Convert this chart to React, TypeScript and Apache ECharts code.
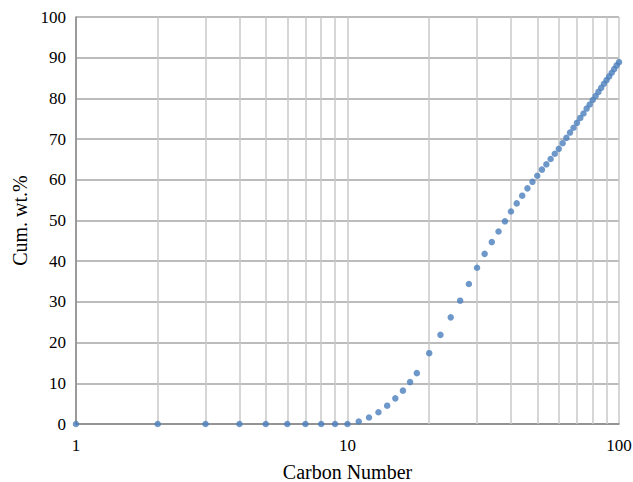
import React, { useEffect, useRef } from "react";
import * as echarts from "echarts";

const carbonNumbers = [
  1, 2, 3, 4, 5, 6, 7, 8, 9, 10, 11, 12, 13, 14, 15, 16, 17, 18, 20, 22, 24, 26, 28, 30,
  32, 34, 36, 38, 40, 42, 44, 46, 48, 50, 52, 54, 56, 58, 60, 62, 64, 66, 68, 70, 72,
  74, 76, 78, 80, 82, 84, 86, 88, 90, 92, 94, 96, 98, 100,
];
const cumWt = [
  0, 0, 0, 0, 0, 0, 0, 0, 0, 0, 0.6, 1.6, 2.9, 4.5, 6.3, 8.2, 10.3, 12.5, 17.4, 21.9, 26.2,
  30.3, 34.4, 38.4, 41.8, 44.7, 47.3, 49.8, 52.2, 54.2, 56.1, 57.9, 59.5, 61.0, 62.5, 63.8,
  65.1, 66.4, 67.6, 69.0, 70.3, 71.6, 72.8, 74.0, 75.2, 76.3, 77.5, 78.5, 79.6, 80.6, 81.6,
  82.6, 83.6, 84.5, 85.4, 86.3, 87.2, 88.1, 88.9,
];
const minorGridX = [2, 3, 4, 5, 6, 7, 8, 9, 20, 30, 40, 50, 60, 70, 80, 90];

export default function App() {
  const ref = useRef<HTMLDivElement>(null);
  useEffect(() => {
    if (!ref.current) return;
    const chart = echarts.init(ref.current, undefined, { renderer: "svg" });
    const font = "Liberation Serif";
    chart.setOption({
      animation: false,
      textStyle: { fontFamily: font },
      grid: {
        left: 76,
        right: 14,
        top: 17,
        bottom: 58,
        containLabel: false,
        outerBoundsMode: "none",
      },
      xAxis: {
        type: "log",
        logBase: 10,
        min: 1,
        max: 100,
        name: "Carbon Number",
        nameLocation: "middle",
        nameGap: 38,
        nameTextStyle: { fontFamily: font, fontSize: 20, color: "#000" },
        axisLine: { lineStyle: { color: "#868686", width: 1.5 } },
        axisTick: { show: false },
        axisLabel: { fontFamily: font, fontSize: 17, color: "#000", margin: 13, hideOverlap: false },
        splitLine: { show: true, lineStyle: { color: "#c8c8c8", width: 1.5 } },
      },
      yAxis: {
        type: "value",
        min: 0,
        max: 100,
        interval: 10,
        name: "Cum. wt.%",
        nameLocation: "middle",
        nameGap: 43,
        nameTextStyle: { fontFamily: font, fontSize: 20, color: "#000" },
        axisLine: { show: true, lineStyle: { color: "#868686", width: 1.5 } },
        axisTick: { show: false },
        axisLabel: { fontFamily: font, fontSize: 17, color: "#000", margin: 10 },
        splitLine: { show: true, lineStyle: { color: "#a6a6a6", width: 1.5 } },
      },
      series: [
        {
          type: "scatter",
          data: carbonNumbers.map((c, i) => [c, cumWt[i]]),
          symbol: "circle",
          symbolSize: 6.5,
          itemStyle: { color: "#4a7ebb" },
          z: 5,
          markLine: {
            silent: true,
            symbol: "none",
            label: { show: false },
            lineStyle: { color: "#c8c8c8", width: 1.5, type: "solid" },
            data: minorGridX.map((v) => ({ xAxis: v })),
            z: 1,
          },
        },
      ],
    });
    return () => chart.dispose();
  }, []);
  return (
    <div
      ref={ref}
      style={{ position: "absolute", left: 0, top: 0, width: 633, height: 482, overflow: "hidden" }}
    />
  );
}
